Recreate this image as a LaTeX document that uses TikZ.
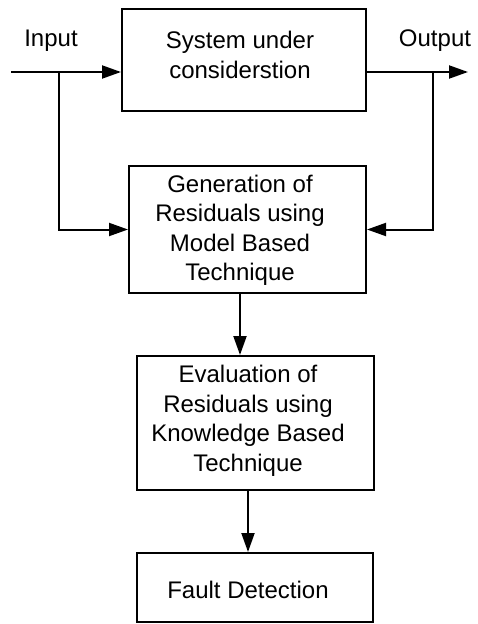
\documentclass[tikz,border=0pt]{standalone}
\usepackage{fontspec}
\setmainfont{Liberation Sans}
\usetikzlibrary{arrows.meta}
\begin{document}
\begin{tikzpicture}[x=1pt,y=-1pt,
  box/.style={draw,line width=2pt,inner sep=0pt},
  txt/.style={align=center,inner sep=0pt,font=\fontsize{24}{29.5}\selectfont},
  arr/.style={line width=2pt,-{Triangle[length=19pt,width=13pt]}}]
\useasboundingbox (0,0) rectangle (477,624);
% boxes
\node[box,minimum width=244pt,minimum height=102pt] (sys) at (244,60) {};
\node[box,minimum width=237pt,minimum height=127pt] (gen) at (247.5,229.5) {};
\node[box,minimum width=237pt,minimum height=134pt] (eval) at (255.5,423) {};
\node[box,minimum width=236pt,minimum height=69pt] (fault) at (255,587.5) {};
% texts
\node[txt] (systxt) at (240,55) {System under\\considerstion};
\node[txt] (gentxt) at (240,230.5) {Generation of\\Residuals using\\Model Based\\Technique};
\node[txt] (evaltxt) at (248,421) {Evaluation of\\Residuals using\\Knowledge Based\\Technique};
\node[txt] (faulttxt) at (248,590) {Fault Detection};
\node[txt] (intxt) at (51,41) {Input};
\node[txt] (outtxt) at (435,41) {Output};
% coordinates
\coordinate (inL) at (11,72);
\coordinate (inB) at (59,72);
\coordinate (outR) at (468,72);
\coordinate (outB) at (433,72);
\coordinate (c1) at (240,0);
\coordinate (c2) at (248,0);
% connectors
\draw[arr] (inL) -- (inL -| sys.west);
\draw[arr] (inB) |- (gen.west);
\draw[arr] (outR -| sys.east) -- (outR);
\draw[arr] (outB) |- (gen.east);
\draw[arr] (gen.south -| c1) -- (eval.north -| c1);
\draw[arr] (eval.south -| c2) -- (fault.north -| c2);
\end{tikzpicture}
\end{document}
